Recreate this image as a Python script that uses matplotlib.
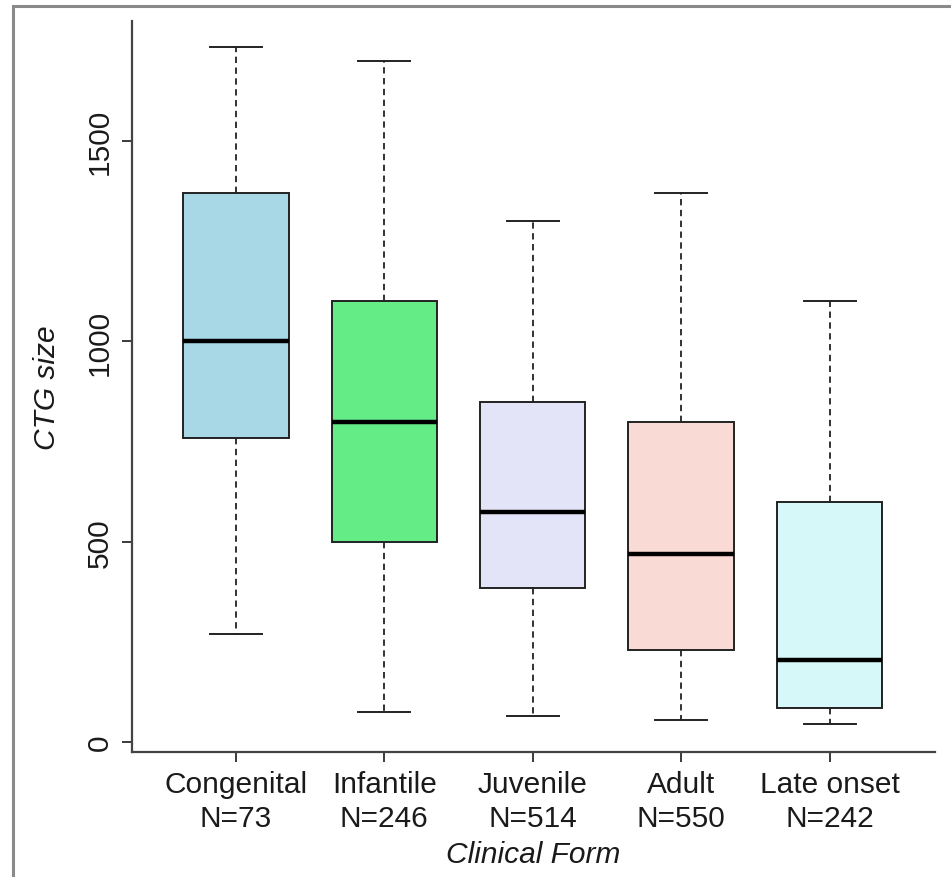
import matplotlib
matplotlib.use("Agg")
import matplotlib.pyplot as plt
from matplotlib.patches import Rectangle

plt.rcParams["font.family"] = ["Liberation Sans", "DejaVu Sans"]

# ─── DATA ────────────────────────────────────────────────────────────────────
forms     = ["Congenital", "Infantile", "Juvenile", "Adult", "Late onset"]
n_counts  = [73, 246, 514, 550, 242]
whis_low  = [270, 75, 65, 55, 45]
q1        = [760, 500, 385, 230, 85]
medians   = [1000, 800, 575, 470, 205]
q3        = [1370, 1100, 850, 800, 600]
whis_high = [1735, 1700, 1300, 1370, 1100]
colors    = ["#a8d8e6", "#64ec86", "#e4e4f8", "#f9dad5", "#d6f8f8"]

stats = [
    dict(label=f"{f}\nN={n}", whislo=lo, q1=a, med=m, q3=b, whishi=hi)
    for f, n, lo, a, m, b, hi in zip(forms, n_counts, whis_low, q1, medians, q3, whis_high)
]

fig = plt.figure(figsize=(9.51, 8.78), dpi=100)
ax = fig.add_axes([132 / 951, 1 - 753 / 878, (935 - 132) / 951, (753 - 22) / 878])

bp = ax.bxp(
    stats, positions=range(1, 6), widths=0.71, patch_artist=True, showfliers=False,
    boxprops=dict(edgecolor="#222222", linewidth=1.4),
    medianprops=dict(color="black", linewidth=3.2, solid_capstyle="butt"),
    whiskerprops=dict(color="#222222", linewidth=1.3, linestyle=(0, (3.5, 2.5))),
    capprops=dict(color="#222222", linewidth=1.4),
    capwidths=0.35,
)
for patch, c in zip(bp["boxes"], colors):
    patch.set_facecolor(c)

ax.set_xlim(0.30, 5.71)
ax.set_ylim(-25, 1800)
ax.set_yticks([0, 500, 1000, 1500])
ax.tick_params(axis="y", labelrotation=90, labelsize=21.5, length=7, width=1.2,
               colors="#1a1a1a", pad=6)
for lab in ax.get_yticklabels():
    lab.set_va("center")
ax.tick_params(axis="x", labelsize=21.5, length=7, width=1.2, colors="#1a1a1a", pad=6)
for lab in ax.get_xticklabels():
    lab.set_linespacing(1.25)

for side in ("top", "right"):
    ax.spines[side].set_visible(False)
for side in ("left", "bottom"):
    ax.spines[side].set_linewidth(1.6)
    ax.spines[side].set_color("#444444")

ax.set_ylabel("CTG size", fontsize=21.5, style="italic", labelpad=18, color="#1a1a1a")
ax.set_xlabel("Clinical Form", fontsize=21.5, style="italic", labelpad=6, color="#1a1a1a")

# grey frame of the original image (left and top edges)
fig.patches.append(Rectangle((13 / 951, -0.1), 1.2, 1 - 7 / 878 + 0.1,
                             transform=fig.transFigure, fill=False,
                             edgecolor="#8a8a8a", linewidth=2.2))

fig.savefig("out.png", dpi=100)
